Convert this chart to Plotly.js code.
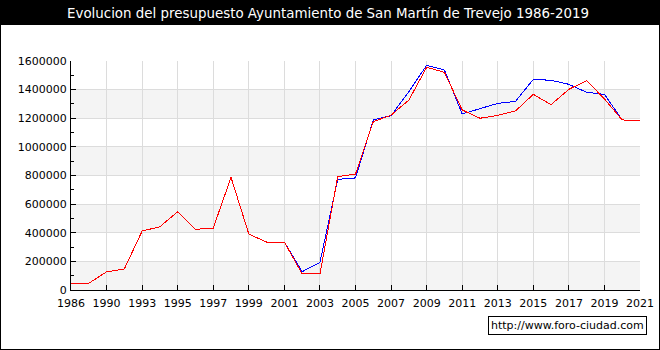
<!DOCTYPE html>
<html>
<head>
<meta charset="utf-8">
<script src="https://cdn.plot.ly/plotly-3.0.1.min.js"></script>
<style>
  html, body { margin: 0; padding: 0; background: #fff; }
  #wrap { position: relative; width: 660px; height: 350px; }
  #chart { width: 660px; height: 350px; }
  #frame { position: absolute; left: 0; top: 0; width: 660px; height: 350px; box-sizing: border-box; border: 1px solid #000; pointer-events: none; }
  .scatterlayer path.js-line { shape-rendering: crispEdges; }
</style>
</head>
<body>
<div id="wrap"><div id="chart"></div><div id="frame"></div></div>
<script>
// Categories (x positions on the chart, evenly spaced)
const years = ["1986","1988","1990","1992","1993","1994","1995","1996","1997","1998","1999","2000",
  "2001","2002","2003","2004","2005","2006","2007","2008","2009","2010","2011","2012","2013",
  "2014","2015","2016","2017","2018","2019","2020","2021"];

// Tick labels shown on the x axis
const xTickLabels = ["1986","1990","1993","1995","1997","1999","2001","2003","2005","2007",
  "2009","2011","2013","2015","2017","2019","2021"];

// Red series
const redValues = [47000,47000,127000,147000,412000,442000,547000,424000,433000,787000,391000,335000,
  335000,112000,112000,792000,810000,1176000,1222000,1327000,1556000,1521000,1258000,1200000,1220000,
  1251000,1367000,1295000,1402000,1463000,1335000,1188000,1185000];

// Blue series
const blueValues = [47000,47000,127000,147000,412000,442000,547000,424000,433000,787000,391000,335000,
  335000,128000,193000,773000,783000,1188000,1218000,1385000,1570000,1537000,1230000,1267000,1304000,
  1318000,1472000,1465000,1437000,1381000,1367000,1188000,1185000];

// Y ticks
const yTicks = [0,200000,400000,600000,800000,1000000,1200000,1400000,1600000];

const font = "DejaVu Sans, Verdana, sans-serif";

const shapes = [];
// alternating grey bands
for (let i = 0; i < yTicks.length - 1; i += 2) {
  shapes.push({type:'rect', xref:'paper', yref:'y', x0:0, x1:1, y0:yTicks[i], y1:yTicks[i+1],
    fillcolor:'#f4f4f4', line:{width:0}, layer:'below'});
}
// title bar
shapes.push({type:'rect', xref:'paper', yref:'paper', x0:-0.2, x1:1.1, y0:1.157, y1:1.35,
  fillcolor:'#000', line:{width:0}, layer:'above'});

const traces = [
  {x: years, y: blueValues, type:'scatter', mode:'lines', line:{color:'#0000ff', width:1}, hoverinfo:'skip'},
  {x: years, y: redValues, type:'scatter', mode:'lines', line:{color:'#ff0000', width:1}, hoverinfo:'skip'}
];

const layout = {
  width: 660, height: 350,
  margin: {l:71, r:20, t:61, b:60, pad:0},
  paper_bgcolor:'#ffffff', plot_bgcolor:'#ffffff',
  showlegend:false,
  title: {text:'Evolucion del presupuesto Ayuntamiento de San Martín de Trevejo 1986-2019',
    font:{family:font, size:13.4, color:'#ffffff'}, x:0.497, xref:'container', xanchor:'center',
    y:0.963, yref:'container', yanchor:'middle'},
  xaxis: {type:'category', range:[0, years.length-1], tickmode:'array', tickvals:xTickLabels, ticktext:xTickLabels,
    showgrid:true, gridcolor:'#dcdcdc', gridwidth:1, showline:true, linecolor:'#000', linewidth:1,
    ticks:'inside', ticklen:5, tickcolor:'#000', tickfont:{family:font, size:11, color:'#000'},
    ticklabelstandoff:3, zeroline:false, fixedrange:true},
  yaxis: {range:[0,1600000], tickmode:'array', tickvals:yTicks, ticktext:yTicks.map(String),
    showgrid:true, gridcolor:'#dcdcdc', gridwidth:1, showline:true, linecolor:'#000', linewidth:1,
    ticks:'inside', ticklen:5, tickcolor:'#000', tickfont:{family:font, size:11, color:'#000'},
    minor:{dtick:100000, tick0:0, ticks:'inside', ticklen:3, tickcolor:'#000', showgrid:false},
    ticklabelstandoff:1, zeroline:false, fixedrange:true},
  shapes: shapes,
  annotations: [{text:'http://www.foro-ciudad.com', xref:'paper', yref:'paper', x:1.0123, y:-0.157,
    xanchor:'right', yanchor:'middle', showarrow:false, font:{family:font, size:11, color:'#000'},
    bgcolor:'#ffffff', bordercolor:'#000', borderwidth:1, borderpad:2}]
};

Plotly.newPlot('chart', traces, layout, {displayModeBar:false, staticPlot:true});
</script>
</body>
</html>
